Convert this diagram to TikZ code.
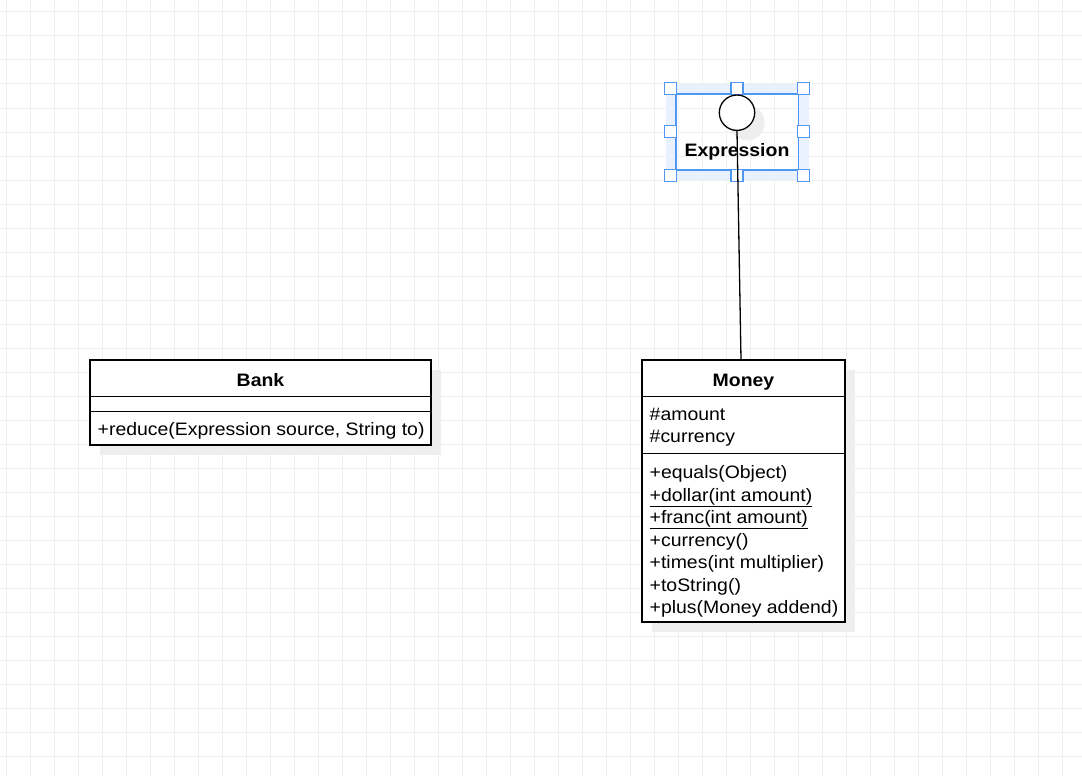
\documentclass[tikz,border=0pt]{standalone}
\usepackage{fontspec}
\setmainfont{Liberation Sans}[FakeStretch=1.08]
\usetikzlibrary{shadows}
\definecolor{gridc}{RGB}{240,240,240}
\definecolor{shadc}{RGB}{238,238,238}
\definecolor{selblue}{RGB}{80,150,245}
\definecolor{selband}{RGB}{232,241,253}
\tikzset{
  umlbox/.style={draw, line width=1.3pt, fill=white, inner sep=0pt,
    drop shadow={shadow xshift=10pt, shadow yshift=-10pt, fill=shadc, opacity=1}},
  txt/.style={anchor=base west, inner sep=0pt, font=\fontsize{18}{22.5}\selectfont},
  ttl/.style={anchor=base, inner sep=0pt, font=\fontsize{18}{22.5}\selectfont\bfseries},
  handle/.style={draw=selblue, fill=white, line width=1.3pt, minimum size=12pt, inner sep=0pt},
  sep/.style={line width=1.3pt},
}
\begin{document}
\begin{tikzpicture}[x=1pt,y=-1pt]
\useasboundingbox (0,0) rectangle (1082,776);
\fill[white] (0,0) rectangle (1082,776);
% grid
\foreach \gx in {0,...,44} \draw[gridc, line width=1pt] (6+24*\gx,0) -- (6+24*\gx,776);
\foreach \gy in {0,...,31} \draw[gridc, line width=1pt] (0,12+24*\gy) -- (1082,12+24*\gy);

% selection band and outline
\draw[selband, line width=10pt] (671,89) rectangle (803.5,175);
\draw[selblue, line width=1.3pt] (676,94) rectangle (798.5,170);
\foreach \hx/\hy [count=\i] in {670.5/88.5,737/88.5,803.5/88.5,670.5/131.5,803.5/131.5,670.5/175.5,737/175.5,803.5/175.5}
  \node[handle] (h\i) at (\hx,\hy) {};

% Expression interface
\node[circle, umlbox, minimum size=35.4pt] (lolly) at (737,112.7) {};
\node[ttl] (exprlbl) at (737,156.5) {Expression};

% Bank
\node[umlbox, rectangle, minimum width=341pt, minimum height=85pt] (bank) at (260.5,402.5) {};
\draw[sep] ([yshift=-37pt]bank.north west) -- ([yshift=-37pt]bank.north east);
\draw[sep] ([yshift=-52pt]bank.north west) -- ([yshift=-52pt]bank.north east);
\node[ttl] (banktitle) at (260.5,386) {Bank};
\node[txt] (bankm) at (97.5,435) {+reduce(Expression source, String to)};

% Money
\node[umlbox, rectangle, minimum width=203pt, minimum height=262pt] (money) at (743.5,491) {};
\draw[sep] ([yshift=-37pt]money.north west) -- ([yshift=-37pt]money.north east);
\draw[sep] ([yshift=-94pt]money.north west) -- ([yshift=-94pt]money.north east);
\node[ttl] (moneytitle) at (743.5,386) {Money};
\node[txt] (a1) at (649.5,420) {\#amount};
\node[txt] (a2) at (649.5,442.5) {\#currency};
\node[txt] (m1) at (649.5,478.5) {+equals(Object)};
\node[txt] (m2) at (649.5,501) {\underline{+dollar(int amount)}};
\node[txt] (m3) at (649.5,523.5) {\underline{+franc(int amount)}};
\node[txt] (m4) at (649.5,546) {+currency()};
\node[txt] (m5) at (649.5,568.5) {+times(int multiplier)};
\node[txt] (m6) at (649.5,591) {+toString()};
\node[txt] (m7) at (649.5,613.5) {+plus(Money addend)};

% realization link
\coordinate (mtop) at ([xshift=-2.5pt]money.north);
\draw[line width=1.3pt] (lolly.south) -- (mtop);
\end{tikzpicture}
\end{document}
